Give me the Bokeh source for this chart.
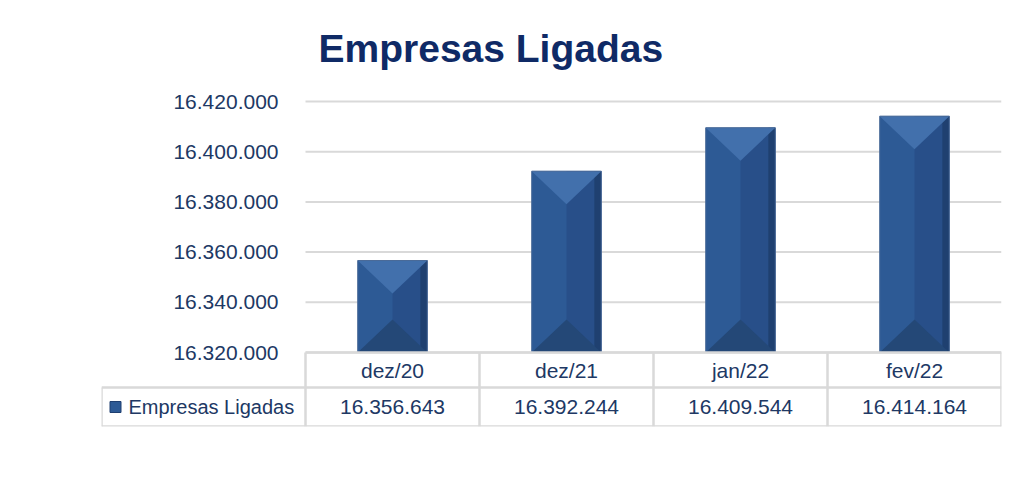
from bokeh.plotting import figure
from bokeh.models import Range1d
from bokeh.core.properties import value
from bokeh.embed import file_html
from bokeh.resources import INLINE
import numpy as np

# ---- data ----
categories = ["dez/20", "dez/21", "jan/22", "fev/22"]
values = [16356643, 16392244, 16409544, 16414164]
series_name = "Empresas Ligadas"
y_ticks = [16320000, 16340000, 16360000, 16380000, 16400000, 16420000]
title_text = "Empresas Ligadas"


def fmt(v):
    return f"{v:,}".replace(",", ".")


# ---- layout (pixels) ----
W, H = 1010, 473
left_b, right_b, top_b, bottom_b = 101, 9, 91, 47
frame_h = H - top_b - bottom_b
axis_px = 251          # height of the bar area
head_pad_px = 10       # room above top gridline for its label
header_px = 35         # category row of the table
col_px = 174           # width of one category column
legend_px = 204        # width of the legend cell
bar_frac = 0.40
bevel_px = 33

n = len(categories)
y_min, y_max = y_ticks[0], y_ticks[-1]
upp = (y_max - y_min) / axis_px            # data units per pixel
y_end = y_max + head_pad_px * upp
y_start = y_end - frame_h * upp
x_left = -legend_px / col_px

TXT = "#203864"
GRID = "#D9D9D9"
FONT = value("Liberation Sans")

p = figure(width=W, height=H, output_backend="svg", toolbar_location=None,
           x_range=Range1d(x_left, n), y_range=Range1d(y_start, y_end),
           x_axis_location=None, y_axis_location=None,
           min_border_left=left_b, min_border_right=right_b,
           min_border_top=top_b, min_border_bottom=bottom_b,
           title=title_text)
p.outline_line_color = None
p.grid.visible = False
p.background_fill_color = "white"
p.border_fill_color = "white"

p.title.align = "left"
p.title.offset = 217
p.title.text_font = "Liberation Sans"
p.title.text_font_size = "39px"
p.title.text_font_style = "bold"
p.title.text_color = "#0F2A66"
p.title.standoff = 44

xc = np.arange(n) + 0.5

# gridlines
p.segment(x0=[0] * len(y_ticks), x1=[n] * len(y_ticks), y0=y_ticks, y1=y_ticks,
          line_color=GRID, line_width=2)

# y tick labels
p.text(x=[0] * len(y_ticks), y=y_ticks, text=[fmt(t) for t in y_ticks],
       x_offset=-27, text_align="right", text_baseline="middle",
       text_font=FONT, text_font_size="21px", text_color=TXT)

# bars with bevel
bw = bar_frac
d = bevel_px * upp
p.vbar(x=xc, top=values, bottom=y_min, width=bw, fill_color="#2D5A95", line_color=None)
p.vbar(x=xc + bw / 4, top=values, bottom=y_min, width=bw / 2, fill_color="#284F89", line_color=None)
p.vbar(x=xc + bw * 0.45, top=values, bottom=y_min, width=bw * 0.1, fill_color="#1F4070", line_color=None)
top_xs = [[x - bw / 2, x + bw / 2, x] for x in xc]
top_ys = [[v, v, v - d] for v in values]
p.patches(top_xs, top_ys, fill_color="#4270AC", line_color=None)
bot_ys = [[y_min, y_min, y_min + d] for v in values]
p.patches(top_xs, bot_ys, fill_color="#244877", line_color=None)
p.vbar(x=xc, top=values, bottom=y_min, width=bw, fill_color=None, line_color="#4A6A98", line_width=1)

# table
row1_y = y_min - header_px * upp
p.segment(x0=[0, x_left, x_left], x1=[n, n, n], y0=[y_min, row1_y, y_start], y1=[y_min, row1_y, y_start],
          line_color=GRID, line_width=2.5)
vx = list(range(n + 1))
p.segment(x0=vx, x1=vx, y0=[y_min] * len(vx), y1=[y_start] * len(vx),
          line_color=GRID, line_width=2.5)
p.segment(x0=[x_left], x1=[x_left], y0=[row1_y], y1=[y_start], line_color=GRID, line_width=2.5)

p.text(x=xc, y=[(y_min + row1_y) / 2] * n, text=categories,
       text_align="center", text_baseline="middle",
       text_font=FONT, text_font_size="21px", text_color=TXT)
row2_c = (row1_y + y_start) / 2
p.text(x=xc, y=[row2_c] * n, text=[fmt(v) for v in values],
       text_align="center", text_baseline="middle",
       text_font=FONT, text_font_size="21px", text_color=TXT)

# legend cell
p.rect(x=[x_left + 14 / col_px], y=[row2_c], width=11, height=11,
       width_units="screen", height_units="screen",
       fill_color="#2D5A95", line_color="#1F3F70")
p.text(x=[x_left + 27 / col_px], y=[row2_c], text=[series_name],
       text_align="left", text_baseline="middle",
       text_font=FONT, text_font_size="20px", text_color=TXT)

open("out.html", "w").write(file_html(p, INLINE))
